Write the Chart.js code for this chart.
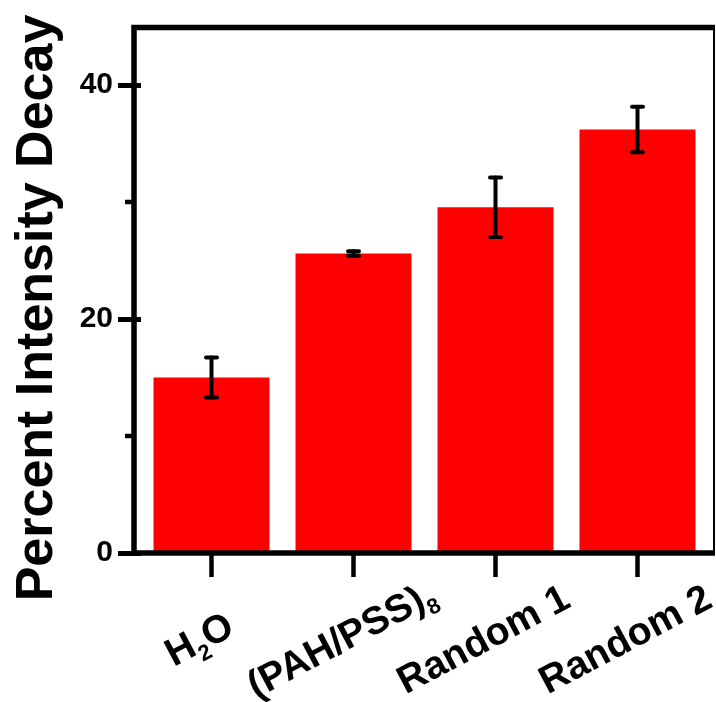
<!DOCTYPE html>
<html>
<head>
<meta charset="utf-8">
<script src="https://cdn.jsdelivr.net/npm/chart.js@4.4.1/dist/chart.umd.min.js"></script>
<style>
  html, body { margin: 0; padding: 0; background: #fff; }
  #wrap { width: 716px; height: 702px; }
</style>
</head>
<body>
<div id="wrap"><canvas id="c" width="716" height="702"></canvas></div>
<script>
const categories = ['H\u2082O', '(PAH/PSS)\u2088', 'Random 1', 'Random 2'];
const decayValues = [15.0, 25.6, 29.55, 36.2];
const decayErrors = [1.7, 0.2, 2.55, 1.95];
const yMajorTicks = [0, 20, 40];
const yMinorTicks = [10, 30];
const yTitle = 'Percent Intensity Decay';

const FONT = '"Liberation Sans", Arial, Helvetica, sans-serif';
const SUBS = { '\u2080':'0','\u2081':'1','\u2082':'2','\u2083':'3','\u2084':'4','\u2085':'5','\u2086':'6','\u2087':'7','\u2088':'8','\u2089':'9' };

function splitSub(s) {
  const out = [];
  for (const ch of s) {
    const sub = SUBS[ch] !== undefined;
    const t = sub ? SUBS[ch] : ch;
    if (out.length && out[out.length - 1].sub === sub) out[out.length - 1].t += t;
    else out.push({ t, sub });
  }
  return out;
}

const framePlugin = {
  id: 'frame',
  afterDatasetsDraw(chart) {
    const ctx = chart.ctx;
    const a = chart.chartArea;
    const y = chart.scales.y;
    const meta = chart.getDatasetMeta(0);
    ctx.save();
    ctx.strokeStyle = '#000';
    ctx.lineCap = 'round';
    meta.data.forEach((bar, i) => {
      const v = decayValues[i], e = decayErrors[i];
      const yt = y.getPixelForValue(v + e);
      const yb = y.getPixelForValue(v - e);
      ctx.lineWidth = 4;
      ctx.beginPath();
      ctx.moveTo(bar.x, yt); ctx.lineTo(bar.x, yb);
      ctx.stroke();
      ctx.lineWidth = 4;
      ctx.beginPath();
      ctx.moveTo(bar.x - 5.5, yt); ctx.lineTo(bar.x + 5.5, yt);
      ctx.moveTo(bar.x - 5.5, yb); ctx.lineTo(bar.x + 5.5, yb);
      ctx.stroke();
    });
    const L = a.left - 6.5, R = a.right + 5.5, T = a.top + 1, B = a.bottom;
    ctx.lineCap = 'butt';
    ctx.lineWidth = 2;
    ctx.beginPath(); ctx.moveTo(R, T); ctx.lineTo(R, B); ctx.stroke();
    ctx.lineWidth = 5.5;
    ctx.beginPath();
    ctx.moveTo(L - 2.75, T); ctx.lineTo(R + 1, T);
    ctx.moveTo(L, T - 2.75); ctx.lineTo(L, B + 2.75);
    ctx.moveTo(L - 2.75, B); ctx.lineTo(R + 1, B);
    ctx.stroke();
    ctx.lineWidth = 4.5;
    yMinorTicks.forEach(v => {
      const py = y.getPixelForValue(v);
      ctx.beginPath(); ctx.moveTo(L - 9, py); ctx.lineTo(L, py); ctx.stroke();
    });
    ctx.restore();
  },
  afterDraw(chart) {
    const ctx = chart.ctx;
    const x = chart.scales.x;
    ctx.save();
    ctx.fillStyle = '#000';
    const size = 39, subSize = 22;
    const capH = 0.716 * size;
    const ang = 28 * Math.PI / 180;
    categories.forEach((lab, i) => {
      const px = x.getPixelForTick(i);
      const segs = splitSub(lab);
      let w = 0;
      segs.forEach(s => {
        ctx.font = 'bold ' + (s.sub ? subSize : size) + 'px ' + FONT;
        s.w = ctx.measureText(s.t).width;
        w += s.w;
      });
      ctx.save();
      ctx.translate(px - 13, 638);
      ctx.rotate(-ang);
      ctx.textAlign = 'left';
      ctx.textBaseline = 'alphabetic';
      let cx = -w / 2;
      segs.forEach(s => {
        ctx.font = 'bold ' + (s.sub ? subSize : size) + 'px ' + FONT;
        ctx.fillText(s.t, cx, capH / 2 + (s.sub ? 9 : 0));
        cx += s.w;
      });
      ctx.restore();
    });
    ctx.save();
    ctx.translate(51.5, 308);
    ctx.rotate(-Math.PI / 2);
    ctx.textAlign = 'center';
    ctx.textBaseline = 'alphabetic';
    ctx.font = 'bold 52px ' + FONT;
    ctx.fillText(yTitle, 0, 0);
    ctx.restore();
    ctx.restore();
  }
};

new Chart(document.getElementById('c'), {
  type: 'bar',
  data: {
    labels: categories,
    datasets: [{
      data: decayValues,
      backgroundColor: '#ff0000',
      borderWidth: 0,
      categoryPercentage: 1.0,
      barPercentage: 0.817
    }]
  },
  plugins: [framePlugin],
  options: {
    responsive: false,
    animation: false,
    layout: { padding: { top: 26.5, right: 7.5, left: 0, bottom: 0 } },
    plugins: { legend: { display: false }, tooltip: { enabled: false } },
    scales: {
      x: {
        offset: true,
        grid: {
          offset: false,
          drawOnChartArea: false,
          drawTicks: true,
          tickLength: 24,
          tickWidth: 4.5,
          tickColor: '#000'
        },
        border: { display: false },
        ticks: { display: false },
        afterFit(scale) { scale.height = 149; }
      },
      y: {
        min: 0,
        max: 45,
        afterBuildTicks(scale) {
          scale.ticks = yMajorTicks.concat(yMinorTicks).sort((p, q) => p - q).map(v => ({ value: v }));
        },
        grid: {
          drawOnChartArea: false,
          drawTicks: true,
          tickLength: 22.5,
          tickWidth: 5,
          tickColor: (c) => yMajorTicks.includes(c.tick && c.tick.value) ? '#000' : 'rgba(0,0,0,0)'
        },
        border: { display: false },
        ticks: {
          color: '#000',
          padding: 5,
          font: { family: FONT, size: 30, weight: 'bold' },
          callback: (v) => yMajorTicks.includes(v) ? String(v) : ''
        },
        afterFit(scale) { scale.width = 140.5; }
      }
    }
  }
});
</script>
</body>
</html>
